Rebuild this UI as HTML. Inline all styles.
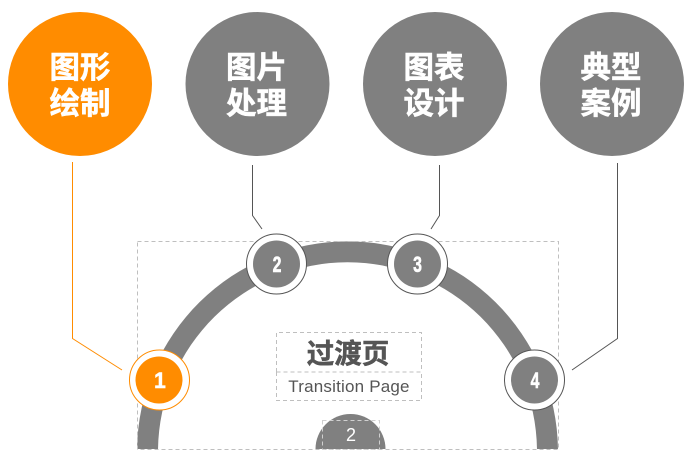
<!DOCTYPE html>
<html><head><meta charset="utf-8"><style>
html,body{margin:0;padding:0;background:#fff;width:697px;height:459px;overflow:hidden}
svg{display:block;overflow:hidden}
.t{font-family:"Liberation Sans","Noto Sans CJK SC",sans-serif;font-weight:700;font-size:30.5px;fill:#fff;stroke:#fff;stroke-width:.5;text-anchor:middle}
.n{font-family:"Liberation Sans",sans-serif;font-weight:700;font-size:22px;fill:#fff;stroke:#fff;stroke-width:.6;text-anchor:middle}
</style></head><body>
<svg width="697" height="459" viewBox="0 0 697 459" xmlns="http://www.w3.org/2000/svg">
<circle cx="80" cy="84" r="72" fill="#ff8c00"/>
<circle cx="257.5" cy="84" r="72" fill="#808080"/>
<circle cx="435" cy="84" r="72" fill="#808080"/>
<circle cx="612" cy="84" r="72" fill="#808080"/>
<text class="t" x="80" y="78">图形</text><text class="t" x="80" y="114">绘制</text>
<text class="t" x="256.5" y="78">图片</text><text class="t" x="256.5" y="114">处理</text>
<text class="t" x="434" y="78">图表</text><text class="t" x="434" y="114">设计</text>
<text class="t" x="611" y="78">典型</text><text class="t" x="611" y="114">案例</text>
<g fill="none" stroke-width="1">
<path d="M72.5 162V338.5L122 370" stroke="#ff8c00"/>
<path d="M252.5 165V215.5L262 229" stroke="#555"/>
<path d="M439.5 165V215.5L431 229" stroke="#555"/>
<path d="M617.5 163V338.5L572 370" stroke="#555"/>
</g>
<path d="M137.02 449A210.5 210.5 0 0 1 557.98 449H536.98A189.5 189.5 0 0 0 158.02 449Z" fill="#808080"/>
<path d="M315.5 449A35 35 0 0 1 385.5 449Z" fill="#808080"/>
<g fill="none" stroke-width="1" stroke-dasharray="4 3" stroke="#bfbfbf">
<rect x="137.5" y="241.5" width="421" height="208"/>
<path d="M276.5 372V332.5H421.5V372"/>
<rect x="276.5" y="372" width="145" height="28.5"/>
<rect x="322.5" y="420.5" width="57" height="29" stroke="#d0d0d0"/>
</g>
<g stroke-width="1">
<circle cx="159.5" cy="380" r="30" fill="#fff" stroke="#ff8c00"/><circle cx="159" cy="380" r="23.5" fill="#ff8c00"/>
<circle cx="276.5" cy="264" r="30" fill="#fff" stroke="#555"/><circle cx="276.5" cy="264" r="23.5" fill="#808080"/>
<circle cx="417.5" cy="264" r="30" fill="#fff" stroke="#555"/><circle cx="417.5" cy="264" r="23.5" fill="#808080"/>
<circle cx="534.5" cy="380" r="30" fill="#fff" stroke="#555"/><circle cx="534.5" cy="380" r="23.5" fill="#808080"/>
</g>
<g>
<text class="n" transform="translate(160 388) scale(.95 1)">1</text>
<text class="n" transform="translate(277 272) scale(.72 1)">2</text>
<text class="n" transform="translate(417.5 272) scale(.72 1)">3</text>
<text class="n" transform="translate(535 388) scale(.72 1)">4</text>
</g>
<text x="348" y="363" text-anchor="middle" font-family="'Liberation Sans','Noto Sans CJK SC',sans-serif" font-weight="700" font-size="27.5" fill="#555" stroke="#555" stroke-width=".5">过渡页</text>
<text x="349" y="392" text-anchor="middle" font-family="'Liberation Sans',sans-serif" font-size="17" letter-spacing=".2" fill="#555">Transition Page</text>
<text x="351" y="441" text-anchor="middle" font-family="'Liberation Sans',sans-serif" font-size="18" fill="#fff">2</text>
</svg>
</body></html>
